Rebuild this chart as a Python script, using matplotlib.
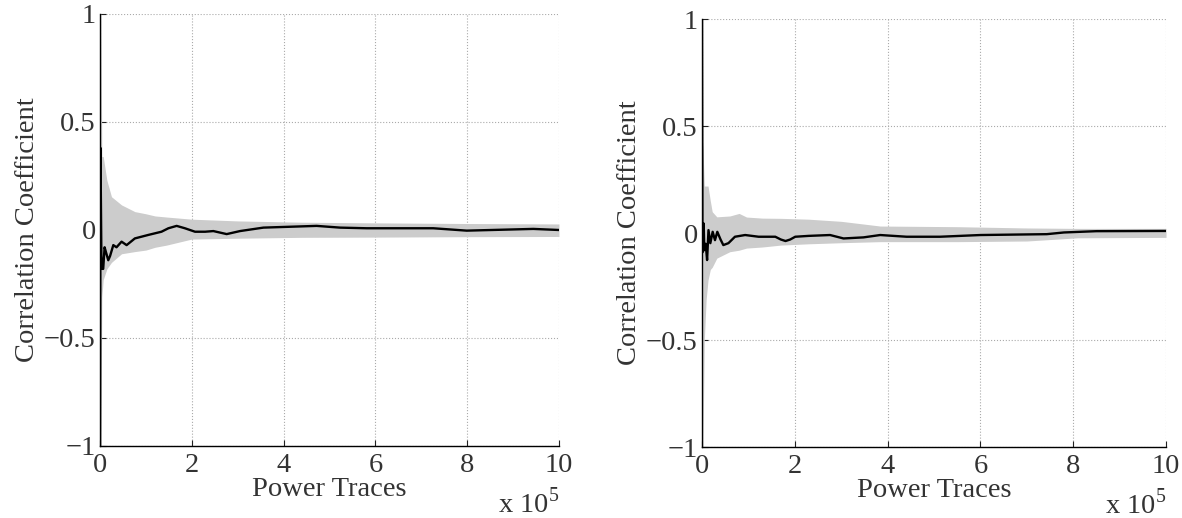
import numpy as np
import matplotlib.pyplot as plt
from matplotlib.ticker import FixedLocator, FixedFormatter

plt.rcParams['font.family'] = ['Liberation Serif', 'DejaVu Serif']
plt.rcParams['font.size'] = 20.5

# gray band = all wrong key guesses, black = correct key
x_band_left = [0, 2000, 4000, 7000, 15000, 25000, 47000, 76000, 100000, 120000, 145000,
               200000, 300000, 440000, 600000, 800000, 1000000]
upper_left = [1.0, 1.0, 0.34, 0.34, 0.23, 0.154, 0.116, 0.085, 0.075, 0.065, 0.06,
              0.05, 0.042, 0.036, 0.033, 0.03, 0.028]
lower_left = [-1.0, -1.0, -0.31, -0.23, -0.18, -0.15, -0.11, -0.1, -0.093, -0.08, -0.07,
              -0.042, -0.038, -0.034, -0.033, -0.031, -0.03]

x_black_left = [0, 1000, 3000, 5000, 7000, 10000, 14000, 18000, 22000, 29000, 36000,
                47000, 58000, 76000, 105000, 134000, 149000, 167000, 185000, 207000,
                229000, 247000, 276000, 305000, 356000, 414000, 472000, 523000, 581000,
                726000, 799000, 944000, 1000000]
y_black_left = [-1.0, 0.38, -0.12, -0.18, -0.18, -0.08, -0.11, -0.14, -0.12, -0.07, -0.08,
                -0.054, -0.07, -0.039, -0.023, -0.008, 0.008, 0.019, 0.008, -0.008,
                -0.008, -0.005, -0.019, -0.005, 0.011, 0.015, 0.019, 0.011, 0.008,
                0.008, -0.003, 0.005, 0.0]

x_band_right = [0, 2000, 5000, 9000, 13000, 18000, 22000, 32000, 60000, 80000, 96000,
                130000, 170000, 230000, 300000, 384000, 550000, 700000, 810000, 1000000]
upper_right = [0.45, 0.4, 0.22, 0.22, 0.22, 0.15, 0.1, 0.076, 0.08, 0.092, 0.075,
               0.07, 0.069, 0.065, 0.055, 0.033, 0.03, 0.024, 0.022, 0.022]
lower_right = [-1.0, -1.0, -0.5, -0.31, -0.22, -0.17, -0.16, -0.117, -0.087, -0.08, -0.07,
               -0.065, -0.056, -0.05, -0.045, -0.04, -0.04, -0.037, -0.022, -0.02]

x_black_right = [0, 1000, 2500, 3600, 5000, 8000, 11000, 14000, 18000, 23000, 28000,
                 33000, 40000, 46000, 57000, 71000, 93000, 122000, 158000, 170000,
                 180000, 190000, 201000, 230000, 276000, 305000, 348000, 384000, 441000,
                 513000, 600000, 743000, 780000, 850000, 994000, 1000000]
y_black_right = [1.0, -0.09, 0.02, 0.045, -0.08, -0.05, -0.126, 0.014, -0.047, 0.006, -0.033,
                 0.006, -0.03, -0.056, -0.047, -0.017, -0.009, -0.017, -0.017, -0.03,
                 -0.037, -0.03, -0.017, -0.013, -0.009, -0.025, -0.02, -0.009, -0.017,
                 -0.017, -0.009, -0.005, 0.003, 0.009, 0.01, 0.01]

x_ticks = [0, 200000, 400000, 600000, 800000, 1000000]
x_tick_labels = ['0', '2', '4', '6', '8', '10']
y_ticks = [-1, -0.5, 0, 0.5, 1]
y_tick_labels = ['\u22121', '\u22120.5', '0', '0.5', '1']

fig = plt.figure(figsize=(11.82, 5.18), dpi=100)
ax1 = fig.add_axes([0.0846, 0.139, 0.3883, 0.834])
ax2 = fig.add_axes([0.5939, 0.137, 0.3926, 0.826])

panels = [(ax1, x_band_left, upper_left, lower_left, x_black_left, y_black_left),
          (ax2, x_band_right, upper_right, lower_right, x_black_right, y_black_right)]

for ax, xb, up, lo, xk, yk in panels:
    ax.fill_between(xb, lo, up, color='#cccccc', lw=0)
    ax.plot(xk, yk, color='black', lw=1.7)
    ax.set_xlim(0, 1000000)
    ax.set_ylim(-1, 1)
    ax.xaxis.set_major_locator(FixedLocator(x_ticks))
    ax.xaxis.set_major_formatter(FixedFormatter(x_tick_labels))
    ax.yaxis.set_major_locator(FixedLocator(y_ticks))
    ax.yaxis.set_major_formatter(FixedFormatter(y_tick_labels))
    ax.grid(True, linestyle=':', color='#aaaaaa', lw=0.8)
    ax.set_axisbelow(True)
    ax.spines['top'].set_visible(False)
    ax.spines['right'].set_visible(False)
    ax.spines['left'].set_linewidth(1.0)
    ax.spines['bottom'].set_linewidth(1.0)
    ax.tick_params(direction='in', length=4, width=0.8, colors='#222222', labelcolor='#333333')
    ax.tick_params(axis='x', pad=5)
    ax.tick_params(axis='y', pad=3)
    ax.set_xlabel('Power Traces', color='#333333', labelpad=-1)
    ax.set_ylabel('Correlation Coefficient', color='#333333', labelpad=3)
    ax.text(1.0, -0.155, 'x 10$^{\\mathregular{5}}$', transform=ax.transAxes,
            ha='right', va='baseline', color='#333333')

plt.savefig('out.png', dpi=100)
